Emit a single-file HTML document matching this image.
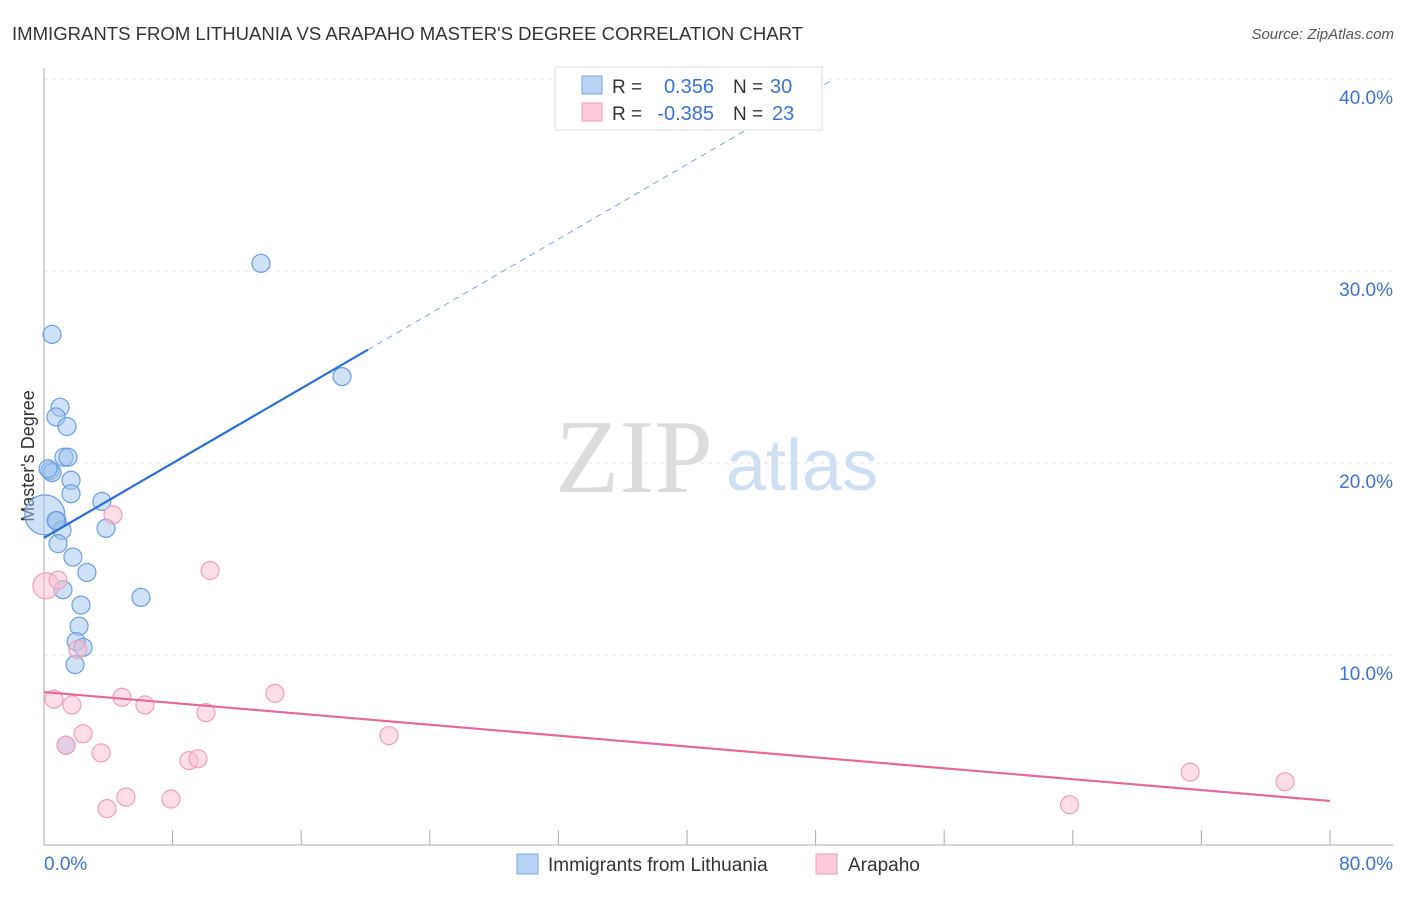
<!DOCTYPE html>
<html><head><meta charset="utf-8"><style>
body{margin:0;background:#fff;font-family:"Liberation Sans",sans-serif}
svg text{font-family:"Liberation Sans",sans-serif}
</style></head><body>
<svg width="1406" height="892">
<text x="12" y="40" font-size="18" fill="#333" textLength="791" lengthAdjust="spacingAndGlyphs">IMMIGRANTS FROM LITHUANIA VS ARAPAHO MASTER'S DEGREE CORRELATION CHART</text>
<text x="1394" y="39" font-size="15" fill="#555" font-style="italic" text-anchor="end">Source: ZipAtlas.com</text>
<g id="grid"></g>
<text x="634" y="492" font-size="105" fill="#dcdcdc" style="font-family:'Liberation Serif',serif" text-anchor="middle">ZIP</text>
<text x="802" y="490" font-size="72" fill="#cfdff3" text-anchor="middle">atlas</text>
<line x1="44" y1="68" x2="44" y2="845" stroke="#aaa"/>
<line x1="44" y1="845" x2="1393" y2="845" stroke="#aaa"/>
<text x="34" y="456" font-size="18" fill="#333" text-anchor="middle" transform="rotate(-90 34 456)">Master's Degree</text>
<text x="44" y="870" font-size="19" fill="#3b73d1">0.0%</text>
<text x="1393" y="870" font-size="19" fill="#3b73d1" text-anchor="end">80.0%</text>
<g id="pts"></g><g id="lines"></g>
<g>
<rect x="555" y="67" width="267" height="63" fill="#fff" stroke="#ddd"/>
<rect x="582" y="76" width="20" height="18" fill="#b9d3f5" stroke="#7aa5e0"/>
<rect x="582" y="103" width="20" height="18" fill="#fbcbd9" stroke="#f09ab5"/>
<text x="612" y="93" font-size="19" fill="#333">R =</text>
<text x="714" y="93" font-size="20" fill="#3b73d1" text-anchor="end">0.356</text>
<text x="733" y="93" font-size="19" fill="#333">N =</text>
<text x="770" y="93" font-size="20" fill="#3b73d1">30</text>
<text x="612" y="120" font-size="19" fill="#333">R =</text>
<text x="714" y="120" font-size="20" fill="#3b73d1" text-anchor="end">-0.385</text>
<text x="733" y="120" font-size="19" fill="#333">N =</text>
<text x="772" y="120" font-size="20" fill="#3b73d1">23</text>
</g>
<g>
<rect x="517" y="854" width="21" height="20" fill="#b9d3f5" stroke="#7aa5e0"/>
<text x="548" y="871" font-size="19" fill="#333">Immigrants from Lithuania</text>
<rect x="816" y="854" width="21" height="20" fill="#fbcbd9" stroke="#f09ab5"/>
<text x="848" y="871" font-size="19" fill="#333">Arapaho</text>
</g>
</svg>
<script>
const yTicks=[10,20,30,40];
const xTicks=[0,8,16,24,32,40,48,56,64,72,80];
const blueX=[0.5,1.0,0.75,1.43,1.24,1.49,0.37,0.5,1.68,1.68,3.6,3.86,0.05,0.8,1.12,0.87,1.8,2.67,1.18,6.03,2.3,2.18,2.0,2.43,1.93,1.37,13.5,18.54,0.25,0.75];
const blueY=[26.7,22.9,22.4,21.9,20.3,20.3,19.6,19.5,19.1,18.4,18.0,16.6,17.3,17.0,16.5,15.8,15.1,14.3,13.4,13.0,12.6,11.5,10.7,10.4,9.5,5.3,30.4,24.5,19.7,17.0];
const blueR=[9,9,9,9,9,9,9,9,9,9,9,9,20,9,9,9,9,9,9,9,9,9,9,9,9,9,9,9,9,9];
const pinkX=[0.12,0.87,4.29,10.33,2.1,0.62,1.74,4.85,6.28,10.08,14.37,2.43,3.55,1.37,9.02,9.58,21.46,5.1,3.92,7.9,71.3,77.2,63.8];
const pinkY=[13.6,13.9,17.3,14.4,10.3,7.7,7.4,7.8,7.4,7.0,8.0,5.9,4.9,5.3,4.5,4.6,5.8,2.6,2.0,2.5,3.9,3.4,2.2];
const pinkR=[13,9,9,9,9,9,9,9,9,9,9,9,9,9,9,9,9,9,9,9,9,9,9];
const blueTrend=[0,16.1,20.15,25.9,48.9];
const pinkTrend=[0,8.07,80,2.4];
const X=v=>44+v/80*1286, Y=v=>847-v*19.2;
const NS="http://www.w3.org/2000/svg";
function mk(t,a,p){const e=document.createElementNS(NS,t);for(const k in a)e.setAttribute(k,a[k]);document.getElementById(p).appendChild(e);return e;}
yTicks.forEach(t=>{
 const l=mk('line',{x1:44,x2:1393,y1:Y(t),y2:Y(t),stroke:'#e3e3e3','stroke-dasharray':'4,4'},'grid');
 
 
 const tx=mk('text',{x:1393,y:Y(t)+25,'font-size':19,fill:'#3b73d1','text-anchor':'end'},'grid');
 tx.textContent=t.toFixed(1)+'%';
 
 
});
xTicks.forEach(t=>{
 const l=mk('line',{x1:X(t),x2:X(t),y1:830,y2:845,stroke:'#aaa'},'grid');
 
 
});
blueX.forEach((v,i)=>{
 const c=mk('circle',{cx:X(v),cy:Y(blueY[i]),r:blueR[i],fill:'rgba(160,195,240,0.5)',stroke:'#6b9ee0','stroke-width':1.2},'pts');
 
 
});
pinkX.forEach((v,i)=>{
 const c=mk('circle',{cx:X(v),cy:Y(pinkY[i]),r:pinkR[i],fill:'rgba(248,190,208,0.5)',stroke:'#f0a0ba','stroke-width':1.2},'pts');
 
 
});
const s=(blueTrend[3]-blueTrend[1])/(blueTrend[2]-blueTrend[0]);
let l1=mk('line',{x1:X(blueTrend[0]),y1:Y(blueTrend[1]),x2:X(blueTrend[2]),y2:Y(blueTrend[3]),stroke:'#2a6fd6','stroke-width':2.2},'lines');


let l2=mk('line',{x1:X(blueTrend[2]),y1:Y(blueTrend[3]),x2:X(blueTrend[4]),y2:Y(blueTrend[1]+s*blueTrend[4]),stroke:'#7aa5e0','stroke-width':1,'stroke-dasharray':'6,5'},'lines');


let l3=mk('line',{x1:X(pinkTrend[0]),y1:Y(pinkTrend[1]),x2:X(pinkTrend[2]),y2:Y(pinkTrend[3]),stroke:'#e8679a','stroke-width':2.2},'lines');


</script>
</body></html>
